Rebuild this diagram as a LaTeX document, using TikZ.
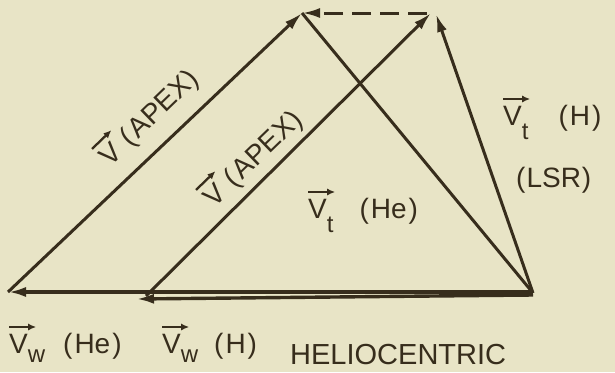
\documentclass[tikz,border=0pt]{standalone}
\usepackage{fontspec}
\setmainfont{Liberation Sans}
\usetikzlibrary{arrows.meta}
\definecolor{bg}{RGB}{232,228,198}
\definecolor{ink}{RGB}{55,45,28}
\newcommand\vV{\rlap{\tikz[overlay,baseline=0pt]\draw[line width=2.3pt, draw=ink, -{Latex[length=8pt,width=7pt]}] (0pt,26pt) -- (27pt,26pt);}V}
\newcommand\subs[2][-0.52em]{\raisebox{#1}{\fontsize{24}{24}\selectfont #2}}
\begin{document}
\begin{tikzpicture}[x=1pt,y=-1pt,
  font=\fontsize{28}{32}\selectfont,
  vecline/.style={line width=3pt, draw=ink, -{Latex[length=18pt,width=10pt]}},
  plainline/.style={line width=3pt, draw=ink},
  lbl/.style={text=ink, inner sep=0pt}]
\path[fill=bg] (0,0) rectangle (615,372);
\useasboundingbox (0,0) rectangle (615,372);
% vertices
\coordinate (O1) at (533,292);
\coordinate (O2) at (533,295);
\coordinate (O) at (533,293);
\coordinate (A) at (8,292);
\coordinate (B) at (136,299);
\coordinate (Bs) at (146,296);
\coordinate (P) at (302,13);
\coordinate (Q) at (431,13);
\coordinate (Qt) at (436,14);
% bottom vectors
\draw[vecline, line width=3.4pt] (O1) -- (A);
\draw[vecline, line width=3.4pt] (O2) -- (B);
% apex vectors
\draw[vecline] (A) -- (P);
\draw[vecline] (Bs) -- (Q);
% Vt vectors
\draw[plainline] (O) -- (P);
\draw[vecline] (O) -- (Qt);
% dashed difference
\draw[vecline, dash pattern=on 19pt off 9pt, shorten <=4pt] (Q) -- (P);
% labels
\node[lbl, rotate=44] (lapex1) at (150,119) {\vV\hspace{10pt}(\kern2ptAPEX\kern1pt)};
\node[lbl, rotate=44] (lapex2) at (254,160) {\vV\hspace{10pt}(\kern2ptAPEX\kern1pt)};
\node[lbl, anchor=base west] (lvthe) at (308,218) {\vV\subs{t}\hspace{26pt}(\kern2ptHe\kern2pt)};
\node[lbl, anchor=base west] (lvth) at (503,125) {\vV\subs{t}\hspace{30pt}(\kern2ptH\kern2pt)};
\node[lbl, anchor=base west] (llsr) at (516,187) {(\kern1ptLSR\kern1pt)};
\node[lbl, anchor=base west] (lvwhe) at (9,353) {\vV\subs[-0.34em]{w}\hspace{18pt}(\kern2ptHe\kern2pt)};
\node[lbl, anchor=base west] (lvwh) at (162,353) {\vV\subs[-0.34em]{w}\hspace{16pt}(\kern2ptH\kern2pt)};
\node[lbl, anchor=base west, font=\fontsize{29}{34}\selectfont] (lhelio) at (290,364) {HELIOCENTRIC};
\end{tikzpicture}
\end{document}
